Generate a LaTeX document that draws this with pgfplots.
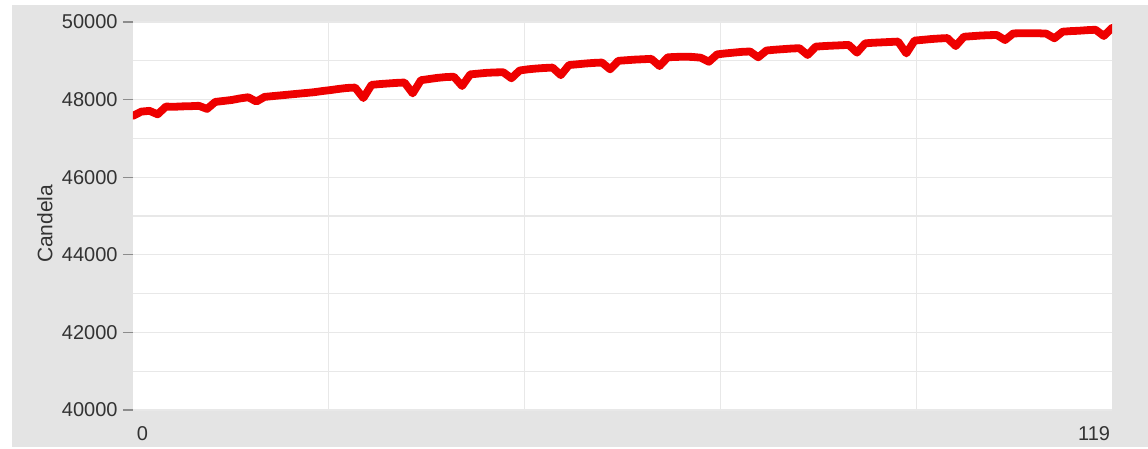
\documentclass[border=0pt]{standalone}
\usepackage{fontspec}
\setmainfont{Liberation Sans}
\usepackage{pgfplots}
\usepackage{pgfplotstable}
\pgfplotsset{compat=1.18}

\definecolor{bggray}{HTML}{E4E4E4}
\definecolor{gridgray}{HTML}{E8E8E8}
\definecolor{labelgray}{HTML}{333333}
\definecolor{linered}{HTML}{EE0000}

% candela readings, one per sample
\pgfplotstableread{
x y
0 47580
1 47690
2 47710
3 47620
4 47820
5 47815
6 47825
7 47830
8 47840
9 47760
10 47940
11 47965
12 47990
13 48030
14 48060
15 47950
16 48070
17 48090
18 48110
19 48130
20 48150
21 48170
22 48190
23 48220
24 48245
25 48275
26 48300
27 48310
28 48040
29 48380
30 48400
31 48415
32 48430
33 48440
34 48160
35 48500
36 48530
37 48560
38 48580
39 48590
40 48350
41 48650
42 48670
43 48690
44 48700
45 48705
46 48550
47 48750
48 48780
49 48800
50 48815
51 48825
52 48630
53 48890
54 48910
55 48930
56 48945
57 48955
58 48780
59 49000
60 49015
61 49030
62 49040
63 49050
64 48865
65 49090
66 49100
67 49105
68 49100
69 49080
70 48975
71 49165
72 49190
73 49210
74 49230
75 49240
76 49090
77 49265
78 49285
79 49300
80 49315
81 49325
82 49150
83 49365
84 49380
85 49390
86 49400
87 49410
88 49210
89 49450
90 49465
91 49475
92 49485
93 49495
94 49190
95 49520
96 49540
97 49560
98 49575
99 49585
100 49380
101 49620
102 49635
103 49650
104 49660
105 49665
106 49535
107 49705
108 49710
109 49712
110 49710
111 49700
112 49580
113 49750
114 49765
115 49775
116 49790
117 49800
118 49640
119 49850
}\candela

\begin{document}
\begin{tikzpicture}
\path[use as bounding box] (0,0) rectangle (574pt,224.5pt);
\fill[bggray] (6pt,1pt) rectangle (574pt,222pt);
\begin{axis}[
    at={(66.5pt,19.5pt)}, anchor=south west,
    scale only axis,
    width=489.5pt, height=194pt,
    xmin=0, xmax=119,
    ymin=40000, ymax=50000,
    axis background/.style={fill=white},
    axis line style={draw=none},
    xtick={0,119},
    xticklabels={{\rlap{\hspace{2pt}0}},{\llap{119\hspace{1pt}}}},
    minor xtick={23.8,47.6,71.4,95.2},
    xminorgrids,
    ytick={40000,42000,...,50000},
    minor ytick={41000,43000,...,49000},
    ymajorgrids, yminorgrids,
    major grid style={gridgray, line width=0.6pt},
    minor grid style={gridgray, line width=0.6pt},
    tick align=outside,
    tick pos=left,
    major tick length=5pt,
    minor tick length=0pt,
    xtick style={draw=none},
    ytick style={color=black!45, line width=0.6pt},
    scaled y ticks=false,
    /pgf/number format/1000 sep={},
    /pgf/number format/assume math mode=true,
    tick label style={font=\fontsize{10pt}{12pt}\selectfont, text=labelgray},
    yticklabel style={inner sep=0pt, xshift=-2.5pt},
    xticklabel style={inner sep=0pt, yshift=-3pt},
    ylabel={Candela},
    ylabel style={at={(axis description cs:-0.0899,0.48)}, anchor=center,
        font=\fontsize{10.5pt}{12pt}\selectfont, text=labelgray},
]
\addplot[linered, line width=3.9pt, line join=round, line cap=round] table {\candela};
\end{axis}
\end{tikzpicture}
\end{document}
